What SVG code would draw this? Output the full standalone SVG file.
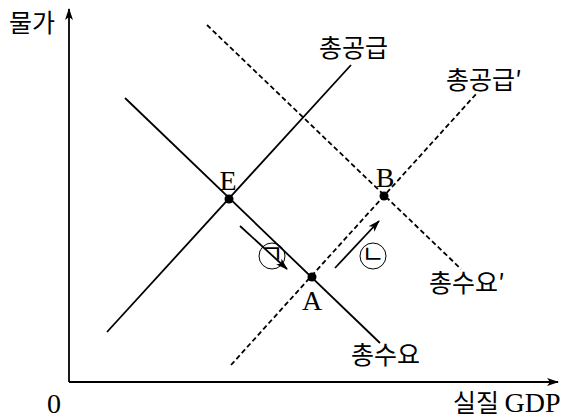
<svg xmlns="http://www.w3.org/2000/svg" width="570" height="420" viewBox="0 0 570 420">
<defs>
<marker id="ah" viewBox="0 0 12 8" refX="11" refY="4" markerWidth="12" markerHeight="8" markerUnits="userSpaceOnUse" orient="auto">
<path d="M0,0 L12,4 L0,8 L3,4 Z" fill="#000"/>
</marker>
</defs>
<style>
.ln{stroke:#000;stroke-width:1.8;fill:none}
.ds{stroke:#000;stroke-width:1.8;fill:none;stroke-dasharray:5 3}
.ko{font-family:"Noto Sans CJK KR","Noto Sans",sans-serif;font-size:25px;fill:#000}
.lt{font-family:"Liberation Serif",serif;font-size:28px;fill:#000}
.pt{fill:#000}
.cl{fill:none;stroke:#000;stroke-width:1}
</style>
<rect width="570" height="420" fill="#fff"/>
<g id="axes">
<line class="ln" x1="69" y1="382" x2="69" y2="9" marker-end="url(#ah)"/>
<line class="ln" x1="69" y1="382" x2="558" y2="382" marker-end="url(#ah)"/>
<text class="ko" x="9" y="32">물가</text>
<text class="lt" x="54" y="413" text-anchor="middle">0</text>
<text class="ko" x="453" y="412">실질 <tspan class="lt" font-size="27">GDP</tspan></text>
</g>
<g id="connectors">
<line id="AD" class="ln" x1="125" y1="98" x2="380" y2="343"/>
<line id="AS" class="ln" x1="107" y1="332" x2="351" y2="65"/>
<line id="AD2" class="ds" x1="207" y1="25" x2="461" y2="269"/>
<line id="AS2" class="ds" x1="231" y1="365" x2="477" y2="93"/>
<line class="ln" stroke-width="1.4" x1="240" y1="226" x2="287" y2="269" marker-end="url(#ah)"/>
<line class="ln" stroke-width="1.4" x1="335" y1="268" x2="379" y2="221" marker-end="url(#ah)"/>
</g>
<g id="labels">
<text class="ko" x="319" y="57">총공급</text>
<text class="ko" x="446" y="89">총공급′</text>
<text class="ko" x="429" y="292">총수요′</text>
<text class="ko" x="351" y="364">총수요</text>
</g>
<g id="E"><circle class="pt" cx="229" cy="199" r="4.5"/><text class="lt" x="228" y="190" text-anchor="middle">E</text></g>
<g id="A"><circle class="pt" cx="312" cy="277" r="4.5"/><text class="lt" x="312" y="310" text-anchor="middle">A</text></g>
<g id="B"><circle class="pt" cx="384" cy="196" r="4.5"/><text class="lt" x="385" y="187" text-anchor="middle">B</text></g>
<g id="g1"><circle class="cl" cx="272" cy="256" r="13"/><text class="ko" x="272" y="263" font-size="19" text-anchor="middle">ㄱ</text></g>
<g id="g2"><circle class="cl" cx="373" cy="256" r="13"/><text class="ko" x="373" y="263" font-size="19" text-anchor="middle">ㄴ</text></g>
</svg>
